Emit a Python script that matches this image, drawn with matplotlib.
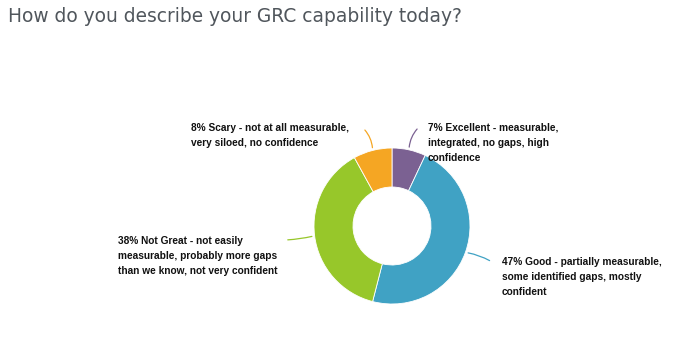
import matplotlib
matplotlib.use('Agg')
from matplotlib import pyplot as plt
import numpy as np

# 数据
labels = ['7% Excellent - measurable,\nintegrated, no gaps, high\nconfidence',
          '47% Good - partially measurable,\nsome identified gaps, mostly\nconfident',
          '38% Not Great - not easily\nmeasurable, probably more gaps\nthan we know, not very confident',
          '8% Scary - not at all measurable,\nvery siloed, no confidence']
values = [7, 47, 38, 8]
colors = ['#7b6192', '#40a2c4', '#97c72a', '#f5a623']

# 画布（像素坐标, y 向上）
fig = plt.figure(figsize=(6.83, 3.51), dpi=100)
ax = fig.add_axes([0, 0, 1, 1])

cx, cy, r = 392, 125, 78
wedges, _ = ax.pie(values, colors=colors, startangle=90, counterclock=False,
                   center=(cx, cy), radius=r, frame=True,
                   wedgeprops=dict(width=r * 0.5, edgecolor='white', linewidth=0.6))
ax.set_xlim(0, 683)
ax.set_ylim(0, 351)
ax.set_aspect('auto')
ax.axis('off')

# 引导线终点和文字位置
line_ends = [(419, 224), (492, 89), (285, 111), (363, 223)]
text_pos = [(428, 228), (502, 94), (118, 115), (191, 228)]
rads = [0.2, 0.1, 0.05, -0.2]

start = 90
for w, v, c, end, tp, rad, lab in zip(wedges, values, colors, line_ends, text_pos, rads, labels):
    mid = np.deg2rad(start - v * 3.6 / 2)
    start -= v * 3.6
    edge = (cx + r * np.cos(mid), cy + r * np.sin(mid))
    ax.annotate('', xy=edge, xytext=end,
                arrowprops=dict(arrowstyle='-', color=c, lw=0.9,
                                connectionstyle=f'arc3,rad={rad}'))
    ax.text(tp[0], tp[1], lab, ha='left', va='top', fontsize=7.3,
            fontweight='bold', family='Liberation Sans', color='#111111',
            linespacing=1.62)

fig.text(8 / 683, 1 - 7 / 351, 'How do you describe your GRC capability today?',
         ha='left', va='top', fontsize=13.4, color='#50565c', family='DejaVu Sans')

fig.savefig('out.png', dpi=100)
